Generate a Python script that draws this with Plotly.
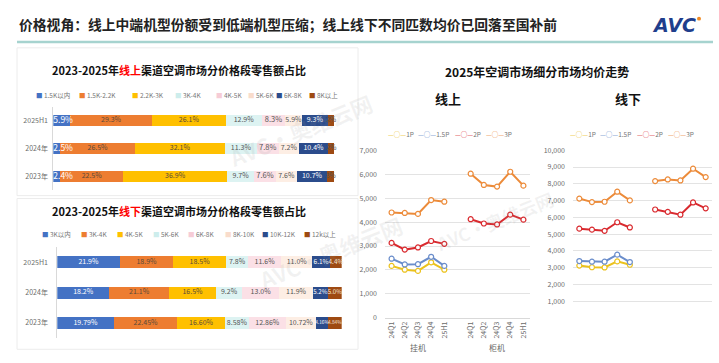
import plotly.graph_objects as go

# ---------------- data ----------------
years = ["2025H1", "2024年", "2023年"]

online_bands = ["1.5K以内", "1.5K-2.2K", "2.2K-3K", "3K-4K", "4K-5K", "5K-6K", "6K-8K", "8K以上"]
online_2025h1 = [5.9, 29.3, 26.1, 12.9, 8.3, 5.9, 9.3, 2.3]
online_2024 = [2.5, 26.5, 32.1, 11.3, 7.8, 7.2, 10.4, 2.2]
online_2023 = [2.4, 22.5, 36.9, 9.7, 7.6, 7.6, 10.7, 2.6]

offline_bands = ["3K以内", "3K-4K", "4K-5K", "5K-6K", "6K-8K", "8K-10K", "10K-12K", "12k以上"]
offline_2025h1 = [21.9, 18.9, 18.5, 7.8, 11.6, 11.0, 6.1, 4.4]
offline_2024 = [18.2, 21.1, 16.5, 9.2, 13.0, 11.9, 5.2, 5.0]
offline_2023 = [19.79, 22.45, 16.60, 8.58, 12.86, 10.72, 4.16, 4.84]

periods = ["24Q1", "24Q2", "24Q3", "24Q4", "25H1"]
groups = ["挂机", "柜机"]
series_names = ["1P", "1.5P", "2P", "3P"]

# 线上 均价 (挂机 / 柜机)
on_wall_1p = [2170, 2010, 1960, 2320, 2010]
on_wall_15p = [2470, 2230, 2240, 2550, 2170]
on_wall_2p = [3130, 2850, 2940, 3210, 3090]
on_wall_3p = [4400, 4380, 4340, 4920, 4850]
on_cab_2p = [4120, 3940, 3900, 4310, 4100]
on_cab_3p = [6020, 5550, 5480, 6100, 5520]

# 线下 均价 (挂机 / 柜机)
off_wall_1p = [3130, 3030, 3020, 3380, 3180]
off_wall_15p = [3400, 3360, 3360, 3780, 3340]
off_wall_2p = [5330, 5270, 5200, 5710, 5400]
off_wall_3p = [7120, 6910, 6930, 7530, 7010]
off_cab_2p = [6470, 6330, 6160, 6890, 6540]
off_cab_3p = [8160, 8260, 8200, 8900, 8400]

# ---------------- styles ----------------
FONT = "Noto Sans CJK SC, Noto Sans, sans-serif"
band_colors = ["#4472C4", "#ED7D31", "#FFC000", "#DDF3F2", "#FBE0E6", "#FDEEE4", "#2B4C8C", "#9E4A12"]
legend_colors = ["#4472C4", "#ED7D31", "#FFC000", "#CDEDEC", "#F6CCD6", "#F9DCCB", "#2B4C8C", "#9E4A12"]
on_text_colors = ["white", "#5a4a3a", "#5a4a3a", "#555", "#555", "#555", "white", "#555"]
off_text_colors = ["white", "#5a4a3a", "#5a4a3a", "#555", "#555", "#555", "white", "#F3E6DC"]
line_colors = ["#EBC21E", "#6A8DCB", "#D92A2F", "#EC8B3A"]

W, H = 719, 363
def px(x):
    return x / W
def py(y):
    return 1 - y / H

fig = go.Figure()

def fmt(v, d):
    return f"{v:.{d}f}%"

# ---- stacked bars + labels ----
def add_bars(bands, rows, decimals, xa, ya, sizes, tcolors, short_last, first_left):
    starts = [0.0] * len(rows)
    for i, b in enumerate(bands):
        vals = [r[i] for r in rows]
        fig.add_trace(go.Bar(
            x=vals, y=years, orientation="h", name=b,
            marker=dict(color=band_colors[i], line=dict(width=0)),
            textposition="none", xaxis=xa, yaxis=ya, showlegend=False,
        ))
        if i == 0 and first_left:
            pos = list(starts)
            tpos = "middle right"
        else:
            pos = [s + v / 2 for s, v in zip(starts, vals)]
            tpos = "middle center"
        starts = [s + v for s, v in zip(starts, vals)]
        if i == len(bands) - 1 and short_last:
            txt = [f"{v:.0f}%" for v in vals]
        else:
            txt = [fmt(v, decimals[k]) for k, v in enumerate(vals)]
        fig.add_trace(go.Scatter(
            x=pos, y=years, mode="text", text=txt, textposition=tpos,
            textfont=dict(color=tcolors[i], size=sizes[i], family=FONT),
            xaxis=xa, yaxis=ya, showlegend=False, cliponaxis=False, hoverinfo="skip",
        ))

add_bars(online_bands, [online_2025h1, online_2024, online_2023], [1, 1, 1], "x", "y",
         [8.5, 7, 7, 7, 7.5, 7, 7, 7], on_text_colors, True, True)
add_bars(offline_bands, [offline_2025h1, offline_2024, offline_2023], [1, 1, 2], "x2", "y2",
         [7, 7, 7, 7, 7, 7, [6.5, 6.2, 4.8], [6.5, 6.2, 4.8]], off_text_colors, False, False)

# ---- line charts ----
def add_lines(wall, cab, xa, ya):
    for k, name in enumerate(series_names):
        xs = list(range(5))
        ys = list(wall[k])
        if cab[k] is not None:
            xs = xs + [5] + list(range(6, 11))
            ys = ys + [None] + list(cab[k])
        fig.add_trace(go.Scatter(
            x=xs, y=ys, mode="lines+markers", name=name,
            line=dict(color=line_colors[k], width=2),
            marker=dict(symbol="circle", size=5, color="white",
                        line=dict(color=line_colors[k], width=1.2)),
            connectgaps=False, xaxis=xa, yaxis=ya, showlegend=False,
        ))

add_lines([on_wall_1p, on_wall_15p, on_wall_2p, on_wall_3p],
          [None, None, on_cab_2p, on_cab_3p], "x3", "y3")
add_lines([off_wall_1p, off_wall_15p, off_wall_2p, off_wall_3p],
          [None, None, off_cab_2p, off_cab_3p], "x4", "y4")

tickpos = list(range(5)) + list(range(6, 11))

axis_font = dict(size=7, color="#6b6b6b", family=FONT)
fig.update_layout(
    width=W, height=H, margin=dict(l=0, r=0, t=0, b=0),
    paper_bgcolor="white", plot_bgcolor="rgba(0,0,0,0)",
    barmode="stack", bargap=0.6, showlegend=False,
    font=dict(family=FONT, size=7, color="#666"),
    xaxis=dict(domain=[px(53.3), px(334.3)], range=[0, 100], visible=False, anchor="y"),
    yaxis=dict(domain=[py(189.7), py(103.4)], type="category", autorange="reversed",
               showline=True, linecolor="#D9D9D9", linewidth=1, ticks="", showgrid=False,
               tickfont=axis_font, anchor="x", ticklabelstandoff=3),
    xaxis2=dict(domain=[px(57.3), px(341.7)], range=[0, 100], visible=False, anchor="y2"),
    yaxis2=dict(domain=[py(341.3), py(248.2)], type="category", autorange="reversed",
                showline=True, linecolor="#D9D9D9", linewidth=1, ticks="", showgrid=False,
                tickfont=axis_font, anchor="x2", ticklabelstandoff=7),
    xaxis3=dict(domain=[px(385), px(530)], range=[-0.5, 10.5], tickmode="array",
                tickvals=tickpos, ticktext=periods * 2, tickangle=-90, tickfont=axis_font,
                showline=True, linecolor="#D9D9D9", showgrid=False, zeroline=False,
                ticks="", anchor="y3"),
    yaxis3=dict(domain=[py(320.7), py(148.3)], range=[0, 7000], dtick=1000, tickformat=",",
                gridcolor="#E3E3E3", zeroline=False, showline=False, ticks="",
                tickfont=axis_font, anchor="x3", ticklabelstandoff=7),
    xaxis4=dict(domain=[px(573), px(712)], range=[-0.5, 10.5], visible=False, anchor="y4"),
    yaxis4=dict(domain=[py(321), py(148.3)], range=[0, 10000], tickmode="array",
                tickvals=list(range(1000, 10001, 1000)), tickformat=",",
                gridcolor="#E3E3E3", zeroline=False, showline=False, ticks="",
                tickfont=axis_font, anchor="x4", ticklabelstandoff=7),
)

ann = []
def text(x, y, t, size=7, color="#666", xanchor="center", bold=False, xref="paper", yref="paper"):
    ann.append(dict(x=x, y=y, xref=xref, yref=yref, text=(f"<b>{t}</b>" if bold else t),
                    showarrow=False, xanchor=xanchor, yanchor="middle",
                    font=dict(size=size, color=color, family=FONT)))

# main title & logo
text(px(17), py(18), "价格视角：线上中端机型份额受到低端机型压缩；线上线下不同匹数均价已回落至国补前",
     size=13.8, color="#222", xanchor="left", bold=True)
ann.append(dict(x=px(698), y=py(20), xref="paper", yref="paper", text="<b><i>AVC</i></b>",
                showarrow=False, xanchor="right", yanchor="middle",
                font=dict(size=19, color="#1F3E8C", family="DejaVu Sans")))

# bar chart titles
text(px(178.7), py(65.5),
     "2023-2025年<span style='color:#FF0000'>线上</span>渠道空调市场分价格段零售额占比",
     size=11, color="#111", bold=True)
text(px(178.7), py(210.5),
     "2023-2025年<span style='color:#FF0000'>线下</span>渠道空调市场分价格段零售额占比",
     size=11, color="#111", bold=True)

# bar legends
on_leg_x = [34, 77, 130, 173, 214, 246, 274, 307]
for i, b in enumerate(online_bands):
    text(px(on_leg_x[i]), py(91.5), f"<span style='color:{legend_colors[i]}'>■</span> {b}",
         size=6.5, color="#777", xanchor="left")
off_leg_x = [40, 79, 115, 151, 186, 223, 260, 302]
for i, b in enumerate(offline_bands):
    text(px(off_leg_x[i]), py(234.5), f"<span style='color:{legend_colors[i]}'>■</span> {b}",
         size=6.5, color="#777", xanchor="left")

# right titles
text(px(536.7), py(67), "2025年空调市场细分市场均价走势", size=12, color="#111", bold=True)
text(px(447.5), py(95.5), "线上", size=13, color="#111", bold=True)
text(px(628.3), py(95.5), "线下", size=13, color="#111", bold=True)

# line legends
l_leg_x = [386, 416, 453, 484]
r_leg_x = [568, 598, 635, 666]
for i, s in enumerate(series_names):
    for xs in (l_leg_x, r_leg_x):
        text(px(xs[i]), py(131.5), f"<span style='color:{line_colors[i]}'>—○—</span>{s}",
             size=6.5, color="#777", xanchor="left")

# group labels under left line chart
for g, xc in zip(groups, [2, 8]):
    ann.append(dict(x=xc, y=py(351), xref="x3", yref="paper", text=g, showarrow=False,
                    xanchor="center", yanchor="middle",
                    font=dict(size=8, color="#666", family=FONT)))

# watermark (faint)
for (wx, wy, ws) in [(300, 80, 22), (330, 300, 22), (560, 260, 18)]:
    ann.append(dict(x=px(wx), y=py(wy), xref="paper", yref="paper",
                    text="<b>AVC·奥维云网</b>", showarrow=False, textangle=-22,
                    font=dict(size=ws, color="rgba(150,150,150,0.12)", family=FONT)))

fig.update_layout(annotations=ann)

shapes = [
    dict(type="line", xref="paper", yref="paper", x0=px(17), x1=px(713), y0=py(37), y1=py(37),
         line=dict(color="#A6D3CF", width=2.5)),
    dict(type="rect", xref="paper", yref="paper", x0=px(17), x1=px(358), y0=py(195), y1=py(43),
         line=dict(color="#ECECEC", width=1)),
    dict(type="rect", xref="paper", yref="paper", x0=px(17), x1=px(358), y0=py(353), y1=py(198),
         line=dict(color="#ECECEC", width=1)),
    dict(type="circle", xref="paper", yref="paper", x0=px(697), x1=px(701), y0=py(15), y1=py(11),
         fillcolor="#F08A24", line=dict(width=0)),
]
fig.update_layout(shapes=shapes)

fig.write_html("out.html", config={"displayModeBar": False},
               post_script="document.body.style.margin='0px';document.body.style.padding='0px';")
